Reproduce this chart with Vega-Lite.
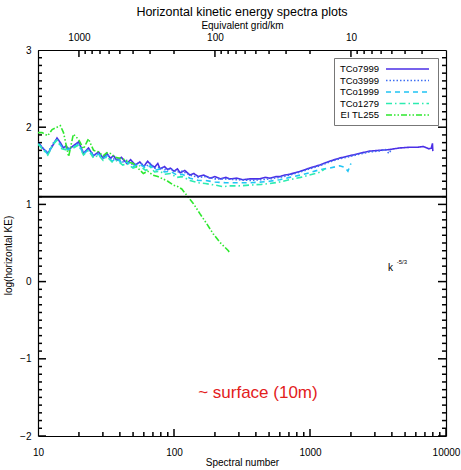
{
  "$schema": "https://vega.github.io/schema/vega-lite/v6.json",
  "width": 408,
  "height": 386,
  "autosize": {"type": "none"},
  "padding": {"left": 38, "top": 50, "right": 15, "bottom": 34},
  "background": "white",
  "title": {"text": "Horizontal kinetic energy spectra plots", "fontSize": 12.5, "fontWeight": "normal", "font": "Liberation Sans", "color": "black", "offset": 2, "anchor": "middle"},
  "config": {
    "font": "Liberation Sans",
    "view": {"stroke": null},
    "axis": {"grid": false, "domainColor": "black", "tickColor": "black", "labelColor": "black", "titleColor": "black", "labelFont": "Liberation Sans", "titleFont": "Liberation Sans", "labelFontSize": 10, "titleFontSize": 10, "titleFontWeight": "normal", "tickWidth": 1.5, "domainWidth": 1.2, "labelOverlap": false, "labelFlush": false, "labelBound": false},
    "legend": {"orient": "none", "legendX": 296, "legendY": 8, "title": null, "strokeColor": "#777", "fillColor": "white", "padding": 5, "symbolType": "M8.2,0H16.8", "symbolSize": 100, "symbolStrokeWidth": 1.6, "labelFontSize": 9.5, "labelColor": "black", "labelAlign": "right", "labelOffset": 28, "rowPadding": 0.5}
  },
  "datasets": {
    "ymajor": [{"k":10,"v":-2},{"k":10,"v":-1},{"k":10,"v":0},{"k":10,"v":1},{"k":10,"v":2},{"k":10,"v":3},{"k":10000,"v":-2},{"k":10000,"v":-1},{"k":10000,"v":0},{"k":10000,"v":1},{"k":10000,"v":2},{"k":10000,"v":3}],
    "yminor": [{"k":10,"v":-1.9},{"k":10,"v":-1.8},{"k":10,"v":-1.7},{"k":10,"v":-1.6},{"k":10,"v":-1.5},{"k":10,"v":-1.4},{"k":10,"v":-1.3},{"k":10,"v":-1.2},{"k":10,"v":-1.1},{"k":10,"v":-0.9},{"k":10,"v":-0.8},{"k":10,"v":-0.7},{"k":10,"v":-0.6},{"k":10,"v":-0.5},{"k":10,"v":-0.4},{"k":10,"v":-0.3},{"k":10,"v":-0.2},{"k":10,"v":-0.1},{"k":10,"v":0.1},{"k":10,"v":0.2},{"k":10,"v":0.3},{"k":10,"v":0.4},{"k":10,"v":0.5},{"k":10,"v":0.6},{"k":10,"v":0.7},{"k":10,"v":0.8},{"k":10,"v":0.9},{"k":10,"v":1.1},{"k":10,"v":1.2},{"k":10,"v":1.3},{"k":10,"v":1.4},{"k":10,"v":1.5},{"k":10,"v":1.6},{"k":10,"v":1.7},{"k":10,"v":1.8},{"k":10,"v":1.9},{"k":10,"v":2.1},{"k":10,"v":2.2},{"k":10,"v":2.3},{"k":10,"v":2.4},{"k":10,"v":2.5},{"k":10,"v":2.6},{"k":10,"v":2.7},{"k":10,"v":2.8},{"k":10,"v":2.9},{"k":10000,"v":-1.9},{"k":10000,"v":-1.8},{"k":10000,"v":-1.7},{"k":10000,"v":-1.6},{"k":10000,"v":-1.5},{"k":10000,"v":-1.4},{"k":10000,"v":-1.3},{"k":10000,"v":-1.2},{"k":10000,"v":-1.1},{"k":10000,"v":-0.9},{"k":10000,"v":-0.8},{"k":10000,"v":-0.7},{"k":10000,"v":-0.6},{"k":10000,"v":-0.5},{"k":10000,"v":-0.4},{"k":10000,"v":-0.3},{"k":10000,"v":-0.2},{"k":10000,"v":-0.1},{"k":10000,"v":0.1},{"k":10000,"v":0.2},{"k":10000,"v":0.3},{"k":10000,"v":0.4},{"k":10000,"v":0.5},{"k":10000,"v":0.6},{"k":10000,"v":0.7},{"k":10000,"v":0.8},{"k":10000,"v":0.9},{"k":10000,"v":1.1},{"k":10000,"v":1.2},{"k":10000,"v":1.3},{"k":10000,"v":1.4},{"k":10000,"v":1.5},{"k":10000,"v":1.6},{"k":10000,"v":1.7},{"k":10000,"v":1.8},{"k":10000,"v":1.9},{"k":10000,"v":2.1},{"k":10000,"v":2.2},{"k":10000,"v":2.3},{"k":10000,"v":2.4},{"k":10000,"v":2.5},{"k":10000,"v":2.6},{"k":10000,"v":2.7},{"k":10000,"v":2.8},{"k":10000,"v":2.9}],
    "kmajor": [{"k":10,"v":-2},{"k":100,"v":-2},{"k":1000,"v":-2},{"k":10000,"v":-2}],
    "kminor": [{"k":20,"v":-2},{"k":30,"v":-2},{"k":40,"v":-2},{"k":50,"v":-2},{"k":60,"v":-2},{"k":70,"v":-2},{"k":80,"v":-2},{"k":90,"v":-2},{"k":200,"v":-2},{"k":300,"v":-2},{"k":400,"v":-2},{"k":500,"v":-2},{"k":600,"v":-2},{"k":700,"v":-2},{"k":800,"v":-2},{"k":900,"v":-2},{"k":2000,"v":-2},{"k":3000,"v":-2},{"k":4000,"v":-2},{"k":5000,"v":-2},{"k":6000,"v":-2},{"k":7000,"v":-2},{"k":8000,"v":-2},{"k":9000,"v":-2}],
    "gmajor": [{"g":10,"v":3},{"g":100,"v":3},{"g":1000,"v":3}],
    "gminor": [{"g":3,"v":3},{"g":4,"v":3},{"g":5,"v":3},{"g":6,"v":3},{"g":7,"v":3},{"g":8,"v":3},{"g":9,"v":3},{"g":20,"v":3},{"g":30,"v":3},{"g":40,"v":3},{"g":50,"v":3},{"g":60,"v":3},{"g":70,"v":3},{"g":80,"v":3},{"g":90,"v":3},{"g":200,"v":3},{"g":300,"v":3},{"g":400,"v":3},{"g":500,"v":3},{"g":600,"v":3},{"g":700,"v":3},{"g":800,"v":3},{"g":900,"v":3}],
    "spectra": [
      {"s":"TCo7999","k":10,"v":1.81},{"s":"TCo7999","k":10.7,"v":1.74},{"s":"TCo7999","k":11.8,"v":1.66},{"s":"TCo7999","k":12.8,"v":1.76},{"s":"TCo7999","k":13.8,"v":1.86},{"s":"TCo7999","k":14.6,"v":1.8},{"s":"TCo7999","k":15.4,"v":1.73},{"s":"TCo7999","k":16.1,"v":1.76},{"s":"TCo7999","k":16.8,"v":1.71},{"s":"TCo7999","k":18.2,"v":1.76},{"s":"TCo7999","k":19.9,"v":1.81},{"s":"TCo7999","k":21.6,"v":1.66},{"s":"TCo7999","k":23.5,"v":1.73},{"s":"TCo7999","k":25.6,"v":1.63},{"s":"TCo7999","k":27.9,"v":1.68},{"s":"TCo7999","k":30.1,"v":1.6},{"s":"TCo7999","k":32.1,"v":1.66},{"s":"TCo7999","k":34,"v":1.6},{"s":"TCo7999","k":36,"v":1.63},{"s":"TCo7999","k":38,"v":1.57},{"s":"TCo7999","k":41,"v":1.61},{"s":"TCo7999","k":45,"v":1.53},{"s":"TCo7999","k":48,"v":1.58},{"s":"TCo7999","k":52,"v":1.51},{"s":"TCo7999","k":56,"v":1.55},{"s":"TCo7999","k":60,"v":1.49},{"s":"TCo7999","k":64,"v":1.56},{"s":"TCo7999","k":67,"v":1.52},{"s":"TCo7999","k":72,"v":1.48},{"s":"TCo7999","k":76,"v":1.53},{"s":"TCo7999","k":79,"v":1.46},{"s":"TCo7999","k":85,"v":1.49},{"s":"TCo7999","k":90,"v":1.45},{"s":"TCo7999","k":94,"v":1.47},{"s":"TCo7999","k":100,"v":1.43},{"s":"TCo7999","k":106,"v":1.46},{"s":"TCo7999","k":111,"v":1.41},{"s":"TCo7999","k":120,"v":1.44},{"s":"TCo7999","k":131,"v":1.38},{"s":"TCo7999","k":140,"v":1.4},{"s":"TCo7999","k":151,"v":1.36},{"s":"TCo7999","k":165,"v":1.38},{"s":"TCo7999","k":184,"v":1.34},{"s":"TCo7999","k":200,"v":1.36},{"s":"TCo7999","k":220,"v":1.33},{"s":"TCo7999","k":240,"v":1.35},{"s":"TCo7999","k":258,"v":1.33},{"s":"TCo7999","k":290,"v":1.34},{"s":"TCo7999","k":320,"v":1.32},{"s":"TCo7999","k":361,"v":1.33},{"s":"TCo7999","k":420,"v":1.33},{"s":"TCo7999","k":470,"v":1.35},{"s":"TCo7999","k":505,"v":1.34},{"s":"TCo7999","k":560,"v":1.36},{"s":"TCo7999","k":600,"v":1.36},{"s":"TCo7999","k":650,"v":1.38},{"s":"TCo7999","k":708,"v":1.39},{"s":"TCo7999","k":780,"v":1.41},{"s":"TCo7999","k":850,"v":1.43},{"s":"TCo7999","k":920,"v":1.45},{"s":"TCo7999","k":990,"v":1.47},{"s":"TCo7999","k":1080,"v":1.49},{"s":"TCo7999","k":1178,"v":1.51},{"s":"TCo7999","k":1396,"v":1.56},{"s":"TCo7999","k":1650,"v":1.6},{"s":"TCo7999","k":1956,"v":1.63},{"s":"TCo7999","k":2300,"v":1.66},{"s":"TCo7999","k":2740,"v":1.69},{"s":"TCo7999","k":3200,"v":1.7},{"s":"TCo7999","k":3840,"v":1.71},{"s":"TCo7999","k":4500,"v":1.73},{"s":"TCo7999","k":5380,"v":1.74},{"s":"TCo7999","k":6200,"v":1.74},{"s":"TCo7999","k":6800,"v":1.75},{"s":"TCo7999","k":7500,"v":1.72},{"s":"TCo7999","k":7800,"v":1.73},{"s":"TCo7999","k":7950,"v":1.79},{"s":"TCo7999","k":8000,"v":1.69},
      {"s":"TCo3999","k":10,"v":1.8},{"s":"TCo3999","k":11,"v":1.72},{"s":"TCo3999","k":11.8,"v":1.67},{"s":"TCo3999","k":13,"v":1.8},{"s":"TCo3999","k":13.8,"v":1.85},{"s":"TCo3999","k":15,"v":1.75},{"s":"TCo3999","k":16.8,"v":1.73},{"s":"TCo3999","k":18.2,"v":1.75},{"s":"TCo3999","k":19.9,"v":1.8},{"s":"TCo3999","k":21.6,"v":1.67},{"s":"TCo3999","k":23.5,"v":1.72},{"s":"TCo3999","k":25.6,"v":1.64},{"s":"TCo3999","k":27.9,"v":1.66},{"s":"TCo3999","k":30.1,"v":1.61},{"s":"TCo3999","k":32.1,"v":1.65},{"s":"TCo3999","k":35,"v":1.58},{"s":"TCo3999","k":38,"v":1.6},{"s":"TCo3999","k":42,"v":1.55},{"s":"TCo3999","k":45,"v":1.57},{"s":"TCo3999","k":50,"v":1.51},{"s":"TCo3999","k":56,"v":1.54},{"s":"TCo3999","k":62,"v":1.49},{"s":"TCo3999","k":67,"v":1.53},{"s":"TCo3999","k":72,"v":1.47},{"s":"TCo3999","k":79,"v":1.48},{"s":"TCo3999","k":85,"v":1.45},{"s":"TCo3999","k":94,"v":1.46},{"s":"TCo3999","k":105,"v":1.42},{"s":"TCo3999","k":115,"v":1.43},{"s":"TCo3999","k":131,"v":1.38},{"s":"TCo3999","k":151,"v":1.35},{"s":"TCo3999","k":170,"v":1.36},{"s":"TCo3999","k":200,"v":1.33},{"s":"TCo3999","k":240,"v":1.33},{"s":"TCo3999","k":290,"v":1.32},{"s":"TCo3999","k":361,"v":1.31},{"s":"TCo3999","k":440,"v":1.32},{"s":"TCo3999","k":505,"v":1.33},{"s":"TCo3999","k":600,"v":1.35},{"s":"TCo3999","k":708,"v":1.38},{"s":"TCo3999","k":850,"v":1.42},{"s":"TCo3999","k":990,"v":1.46},{"s":"TCo3999","k":1178,"v":1.5},{"s":"TCo3999","k":1396,"v":1.55},{"s":"TCo3999","k":1650,"v":1.59},{"s":"TCo3999","k":1956,"v":1.62},{"s":"TCo3999","k":2300,"v":1.65},{"s":"TCo3999","k":2740,"v":1.68},{"s":"TCo3999","k":3200,"v":1.69},{"s":"TCo3999","k":3600,"v":1.71},{"s":"TCo3999","k":3800,"v":1.66},{"s":"TCo3999","k":3900,"v":1.69},{"s":"TCo3999","k":4000,"v":1.71},
      {"s":"TCo1999","k":10,"v":1.79},{"s":"TCo1999","k":11,"v":1.71},{"s":"TCo1999","k":11.8,"v":1.65},{"s":"TCo1999","k":13,"v":1.79},{"s":"TCo1999","k":13.8,"v":1.84},{"s":"TCo1999","k":15,"v":1.74},{"s":"TCo1999","k":16.8,"v":1.71},{"s":"TCo1999","k":18.2,"v":1.74},{"s":"TCo1999","k":19.9,"v":1.78},{"s":"TCo1999","k":21.6,"v":1.65},{"s":"TCo1999","k":23.5,"v":1.71},{"s":"TCo1999","k":25.6,"v":1.62},{"s":"TCo1999","k":27.9,"v":1.65},{"s":"TCo1999","k":30.1,"v":1.59},{"s":"TCo1999","k":32.1,"v":1.63},{"s":"TCo1999","k":35,"v":1.56},{"s":"TCo1999","k":38,"v":1.59},{"s":"TCo1999","k":42,"v":1.53},{"s":"TCo1999","k":45,"v":1.55},{"s":"TCo1999","k":50,"v":1.49},{"s":"TCo1999","k":56,"v":1.52},{"s":"TCo1999","k":62,"v":1.47},{"s":"TCo1999","k":67,"v":1.5},{"s":"TCo1999","k":72,"v":1.44},{"s":"TCo1999","k":79,"v":1.46},{"s":"TCo1999","k":85,"v":1.42},{"s":"TCo1999","k":94,"v":1.43},{"s":"TCo1999","k":105,"v":1.38},{"s":"TCo1999","k":115,"v":1.39},{"s":"TCo1999","k":131,"v":1.34},{"s":"TCo1999","k":151,"v":1.31},{"s":"TCo1999","k":170,"v":1.31},{"s":"TCo1999","k":200,"v":1.29},{"s":"TCo1999","k":240,"v":1.28},{"s":"TCo1999","k":290,"v":1.28},{"s":"TCo1999","k":361,"v":1.28},{"s":"TCo1999","k":440,"v":1.29},{"s":"TCo1999","k":505,"v":1.3},{"s":"TCo1999","k":600,"v":1.32},{"s":"TCo1999","k":708,"v":1.35},{"s":"TCo1999","k":850,"v":1.38},{"s":"TCo1999","k":990,"v":1.41},{"s":"TCo1999","k":1178,"v":1.45},{"s":"TCo1999","k":1396,"v":1.47},{"s":"TCo1999","k":1650,"v":1.5},{"s":"TCo1999","k":1800,"v":1.48},{"s":"TCo1999","k":1900,"v":1.43},{"s":"TCo1999","k":1999,"v":1.53},
      {"s":"TCo1279","k":10,"v":1.78},{"s":"TCo1279","k":11,"v":1.7},{"s":"TCo1279","k":11.8,"v":1.64},{"s":"TCo1279","k":13,"v":1.78},{"s":"TCo1279","k":13.8,"v":1.83},{"s":"TCo1279","k":15,"v":1.72},{"s":"TCo1279","k":16.8,"v":1.7},{"s":"TCo1279","k":18.2,"v":1.73},{"s":"TCo1279","k":19.9,"v":1.77},{"s":"TCo1279","k":21.6,"v":1.64},{"s":"TCo1279","k":23.5,"v":1.7},{"s":"TCo1279","k":25.6,"v":1.6},{"s":"TCo1279","k":27.9,"v":1.64},{"s":"TCo1279","k":30.1,"v":1.57},{"s":"TCo1279","k":32.1,"v":1.62},{"s":"TCo1279","k":35,"v":1.55},{"s":"TCo1279","k":38,"v":1.57},{"s":"TCo1279","k":42,"v":1.51},{"s":"TCo1279","k":45,"v":1.53},{"s":"TCo1279","k":50,"v":1.47},{"s":"TCo1279","k":56,"v":1.5},{"s":"TCo1279","k":62,"v":1.44},{"s":"TCo1279","k":67,"v":1.48},{"s":"TCo1279","k":72,"v":1.42},{"s":"TCo1279","k":79,"v":1.43},{"s":"TCo1279","k":85,"v":1.39},{"s":"TCo1279","k":94,"v":1.4},{"s":"TCo1279","k":105,"v":1.35},{"s":"TCo1279","k":115,"v":1.36},{"s":"TCo1279","k":131,"v":1.31},{"s":"TCo1279","k":151,"v":1.28},{"s":"TCo1279","k":170,"v":1.27},{"s":"TCo1279","k":200,"v":1.25},{"s":"TCo1279","k":230,"v":1.23},{"s":"TCo1279","k":261,"v":1.24},{"s":"TCo1279","k":300,"v":1.24},{"s":"TCo1279","k":361,"v":1.25},{"s":"TCo1279","k":440,"v":1.26},{"s":"TCo1279","k":505,"v":1.27},{"s":"TCo1279","k":600,"v":1.29},{"s":"TCo1279","k":708,"v":1.32},{"s":"TCo1279","k":850,"v":1.35},{"s":"TCo1279","k":990,"v":1.38},{"s":"TCo1279","k":1100,"v":1.4},{"s":"TCo1279","k":1200,"v":1.42},{"s":"TCo1279","k":1279,"v":1.46},
      {"s":"EI TL255","k":10,"v":1.93},{"s":"EI TL255","k":10.7,"v":1.93},{"s":"EI TL255","k":11.8,"v":1.89},{"s":"EI TL255","k":12.7,"v":1.97},{"s":"EI TL255","k":14.6,"v":2.02},{"s":"EI TL255","k":15.4,"v":1.93},{"s":"EI TL255","k":16.8,"v":1.62},{"s":"EI TL255","k":18.2,"v":1.91},{"s":"EI TL255","k":19.9,"v":1.84},{"s":"EI TL255","k":21.6,"v":1.72},{"s":"EI TL255","k":23.5,"v":1.85},{"s":"EI TL255","k":25.6,"v":1.7},{"s":"EI TL255","k":27.9,"v":1.68},{"s":"EI TL255","k":30.1,"v":1.63},{"s":"EI TL255","k":32.1,"v":1.67},{"s":"EI TL255","k":34,"v":1.66},{"s":"EI TL255","k":37,"v":1.61},{"s":"EI TL255","k":42,"v":1.59},{"s":"EI TL255","k":46,"v":1.55},{"s":"EI TL255","k":50,"v":1.53},{"s":"EI TL255","k":55,"v":1.46},{"s":"EI TL255","k":59.5,"v":1.4},{"s":"EI TL255","k":64,"v":1.43},{"s":"EI TL255","k":70,"v":1.38},{"s":"EI TL255","k":76,"v":1.36},{"s":"EI TL255","k":83,"v":1.33},{"s":"EI TL255","k":90,"v":1.3},{"s":"EI TL255","k":99,"v":1.25},{"s":"EI TL255","k":107,"v":1.23},{"s":"EI TL255","k":114,"v":1.2},{"s":"EI TL255","k":124,"v":1.12},{"s":"EI TL255","k":139,"v":1.01},{"s":"EI TL255","k":155,"v":0.88},{"s":"EI TL255","k":174,"v":0.75},{"s":"EI TL255","k":194,"v":0.62},{"s":"EI TL255","k":217,"v":0.51},{"s":"EI TL255","k":235,"v":0.45},{"s":"EI TL255","k":251,"v":0.4},{"s":"EI TL255","k":255,"v":0.38}
    ]
  },
  "layer": [
    {
      "data": {"name": "spectra"},
      "mark": {"type": "line", "strokeWidth": 1.6, "clip": true},
      "encoding": {
        "x": {"field": "k", "type": "quantitative", "title": "Spectral number",
          "scale": {"type": "log", "domain": [10, 10000], "nice": false},
          "axis": {"orient": "bottom", "values": [10, 100, 1000, 10000], "format": "d", "ticks": false, "labelPadding": 11, "titlePadding": 0}},
        "y": {"field": "v", "type": "quantitative", "title": "log(horizontal KE)",
          "scale": {"domain": [-2, 3], "nice": false, "zero": false},
          "axis": {"orient": "left", "values": [-2, -1, 0, 1, 2, 3], "format": "d", "ticks": false, "labelPadding": 7, "titlePadding": 6, "titleY": 205}},
        "color": {"field": "s", "type": "nominal",
          "scale": {"domain": ["TCo7999","TCo3999","TCo1999","TCo1279","EI TL255"], "range": ["#4b2fe6","#3f6ff2","#20c4f4","#2cecb0","#2ee82e"]}},
        "strokeDash": {"field": "s", "type": "nominal",
          "scale": {"domain": ["TCo7999","TCo3999","TCo1999","TCo1279","EI TL255"], "range": [[1,0],[1.5,2],[5,4],[6,3,1.5,3],[6,2,1.5,2,1.5,2]]}}
      }
    },
    {
      "data": {"values": [{"g": 2, "v": -2}, {"g": 2000, "v": 3}]},
      "mark": {"type": "point", "opacity": 0},
      "encoding": {
        "x": {"field": "g", "type": "quantitative", "title": "Equivalent grid/km",
          "scale": {"type": "log", "domain": [2, 2000], "reverse": true, "nice": false},
          "axis": {"orient": "top", "values": [10, 100, 1000], "format": "d", "ticks": false, "labelPadding": 8, "titlePadding": 2}},
        "y": {"field": "v", "type": "quantitative",
          "scale": {"domain": [-2, 3], "nice": false, "zero": false},
          "axis": {"orient": "right", "title": null, "labels": false, "ticks": false}}
      }
    },
    {
      "data": {"name": "ymajor"},
      "mark": {"type": "tick", "orient": "horizontal", "size": 16, "thickness": 1.5, "clip": true, "color": "black", "opacity": 1},
      "encoding": {
        "x": {"field": "k", "type": "quantitative", "scale": {"type": "log", "domain": [10, 10000], "nice": false}, "axis": null},
        "y": {"field": "v", "type": "quantitative", "scale": {"domain": [-2, 3], "nice": false, "zero": false}, "axis": null}
      }
    },
    {
      "data": {"name": "yminor"},
      "mark": {"type": "tick", "orient": "horizontal", "size": 8, "thickness": 1.5, "clip": true, "color": "black", "opacity": 1},
      "encoding": {
        "x": {"field": "k", "type": "quantitative", "scale": {"type": "log", "domain": [10, 10000], "nice": false}, "axis": null},
        "y": {"field": "v", "type": "quantitative", "scale": {"domain": [-2, 3], "nice": false, "zero": false}, "axis": null}
      }
    },
    {
      "data": {"name": "kmajor"},
      "mark": {"type": "tick", "orient": "vertical", "size": 14, "thickness": 1.5, "clip": true, "color": "black", "opacity": 1},
      "encoding": {
        "x": {"field": "k", "type": "quantitative", "scale": {"type": "log", "domain": [10, 10000], "nice": false}, "axis": null},
        "y": {"field": "v", "type": "quantitative", "scale": {"domain": [-2, 3], "nice": false, "zero": false}, "axis": null}
      }
    },
    {
      "data": {"name": "kminor"},
      "mark": {"type": "tick", "orient": "vertical", "size": 8, "thickness": 1.5, "clip": true, "color": "black", "opacity": 1},
      "encoding": {
        "x": {"field": "k", "type": "quantitative", "scale": {"type": "log", "domain": [10, 10000], "nice": false}, "axis": null},
        "y": {"field": "v", "type": "quantitative", "scale": {"domain": [-2, 3], "nice": false, "zero": false}, "axis": null}
      }
    },
    {
      "data": {"name": "gmajor"},
      "mark": {"type": "tick", "orient": "vertical", "size": 14, "thickness": 1.5, "clip": true, "color": "black", "opacity": 1},
      "encoding": {
        "x": {"field": "g", "type": "quantitative", "scale": {"type": "log", "domain": [2, 2000], "reverse": true, "nice": false}, "axis": null},
        "y": {"field": "v", "type": "quantitative", "scale": {"domain": [-2, 3], "nice": false, "zero": false}, "axis": null}
      }
    },
    {
      "data": {"name": "gminor"},
      "mark": {"type": "tick", "orient": "vertical", "size": 8, "thickness": 1.5, "clip": true, "color": "black", "opacity": 1},
      "encoding": {
        "x": {"field": "g", "type": "quantitative", "scale": {"type": "log", "domain": [2, 2000], "reverse": true, "nice": false}, "axis": null},
        "y": {"field": "v", "type": "quantitative", "scale": {"domain": [-2, 3], "nice": false, "zero": false}, "axis": null}
      }
    },
    {
      "data": {"values": [{"v": 1.1}]},
      "mark": {"type": "rule", "color": "black", "strokeWidth": 2},
      "encoding": {
        "y": {"field": "v", "type": "quantitative", "scale": {"domain": [-2, 3], "nice": false, "zero": false}, "axis": null}
      }
    },
    {
      "data": {"values": [{"k": 414, "v": -1.44, "t": "~ surface (10m)"}]},
      "mark": {"type": "text", "color": "#e3201b", "fontSize": 17, "align": "center", "baseline": "middle", "font": "Liberation Sans"},
      "encoding": {
        "x": {"field": "k", "type": "quantitative", "scale": {"type": "log", "domain": [10, 10000], "nice": false}, "axis": null},
        "y": {"field": "v", "type": "quantitative", "scale": {"domain": [-2, 3], "nice": false, "zero": false}, "axis": null},
        "text": {"field": "t"}
      }
    },
    {
      "data": {"values": [{"k": 3900, "v": 0.18, "t": "k"}]},
      "mark": {"type": "text", "color": "black", "fontSize": 10, "align": "center", "baseline": "middle", "font": "Liberation Sans"},
      "encoding": {
        "x": {"field": "k", "type": "quantitative", "scale": {"type": "log", "domain": [10, 10000], "nice": false}, "axis": null},
        "y": {"field": "v", "type": "quantitative", "scale": {"domain": [-2, 3], "nice": false, "zero": false}, "axis": null},
        "text": {"field": "t"}
      }
    },
    {
      "data": {"values": [{"k": 4346, "v": 0.26, "t": "-5/3"}]},
      "mark": {"type": "text", "color": "black", "fontSize": 6, "align": "left", "baseline": "middle", "font": "Liberation Sans"},
      "encoding": {
        "x": {"field": "k", "type": "quantitative", "scale": {"type": "log", "domain": [10, 10000], "nice": false}, "axis": null},
        "y": {"field": "v", "type": "quantitative", "scale": {"domain": [-2, 3], "nice": false, "zero": false}, "axis": null},
        "text": {"field": "t"}
      }
    }
  ],
  "resolve": {"scale": {"x": "independent"}, "axis": {"x": "independent", "y": "independent"}}
}
